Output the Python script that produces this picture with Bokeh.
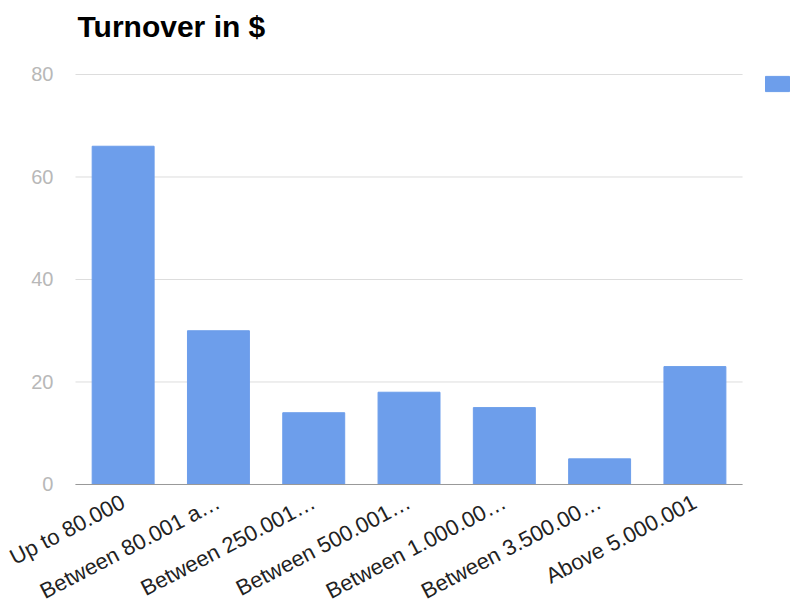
import math
from bokeh.plotting import figure
from bokeh.models import (ColumnDataSource, Legend, LegendItem, Title,
                          FixedTicker, Range1d)
from bokeh.embed import file_html
from bokeh.resources import INLINE

categories = ["Up to 80.000", "Between 80.001 a\u2026", "Between 250.001\u2026",
              "Between 500.001\u2026", "Between 1.000.00\u2026", "Between 3.500.00\u2026",
              "Above 5.000.001"]
values = [66, 30, 14, 18, 15, 5, 23]
y_ticks = [0, 20, 40, 60, 80]

idx = list(range(len(categories)))
src = ColumnDataSource(dict(x=idx, val=values, cat=categories))
x_lo, x_hi = -0.5, len(categories) - 0.5
grid_src = ColumnDataSource(dict(y=y_ticks, x0=[x_lo] * len(y_ticks), x1=[x_hi] * len(y_ticks)))

# plot area covers the whole canvas below the title, so that the axis labels
# (drawn beside the zero lines) stay inside it
p = figure(x_range=Range1d(-1.287, 7.024), y_range=Range1d(-24.2, 81.95), width=792, height=608,
           output_backend="svg", toolbar_location=None, title=None,
           min_border_left=0, min_border_right=0, min_border_top=64, min_border_bottom=0)

# spacer panel between title and plot area
p.add_layout(Title(text=" ", text_font="Liberation Sans", text_font_size="18px",
                   standoff=0), "above")
p.add_layout(Title(text="Turnover in $", text_font="Liberation Sans", text_font_size="30px",
                   text_font_style="bold", text_color="#000000", align="left", offset=77,
                   standoff=0), "above")

# horizontal grid lines limited to the category span
p.segment(x0="x0", x1="x1", y0="y", y1="y", source=grid_src, line_color="#dddddd",
          line_width=1)

r = p.vbar(x="x", top="val", bottom=0, width=0.65, source=src, fill_color="#6d9eeb",
           line_color="#6d9eeb")

p.outline_line_color = None
p.xgrid.grid_line_color = None
p.ygrid.grid_line_color = None

p.yaxis.ticker = FixedTicker(ticks=y_ticks)
p.yaxis.fixed_location = x_lo
p.yaxis.axis_line_color = None
p.yaxis.major_tick_line_color = None
p.yaxis.minor_tick_line_color = None
p.yaxis.major_label_text_color = "#b8b8b8"
p.yaxis.major_label_text_font = "Liberation Sans"
p.yaxis.major_label_text_font_size = "20px"
p.yaxis.major_label_standoff = 16

p.xaxis.ticker = FixedTicker(ticks=idx)
p.xaxis.major_label_overrides = {i: c for i, c in zip(idx, categories)}
p.xaxis.bounds = (x_lo, x_hi)
p.xaxis.fixed_location = 0
p.xaxis.axis_line_color = "#999999"
p.xaxis.major_tick_line_color = None
p.xaxis.minor_tick_line_color = None
p.xaxis.major_label_orientation = 0.48
p.xaxis.major_label_text_font = "Liberation Sans"
p.xaxis.major_label_text_font_size = "22px"
p.xaxis.major_label_text_color = "#222222"
p.xaxis.major_label_standoff = 10

legend = Legend(items=[LegendItem(label=" ", renderers=[r])],
                location=(762, 515), glyph_width=30, glyph_height=19,
                label_text_font="Liberation Sans", label_text_font_size="13px",
                label_width=0, label_height=19, label_standoff=0,
                background_fill_alpha=0, border_line_color=None, padding=0, margin=0)
p.add_layout(legend, "center")

open("out.html", "w").write(file_html(p, INLINE))
